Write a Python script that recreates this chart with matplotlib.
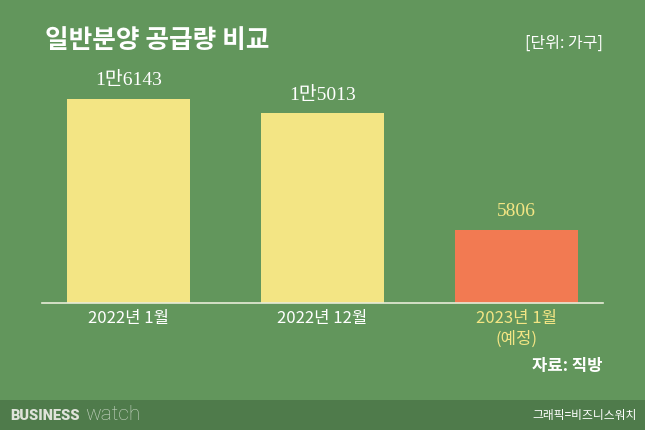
import matplotlib.pyplot as plt
from matplotlib.patches import Rectangle

plt.rcParams['font.family'] = ['Noto Sans CJK KR', 'DejaVu Sans']

# data
labels = ['2022년 1월', '2022년 12월', '2023년 1월\n(예정)']
values = [16143, 15013, 5806]
value_text = ['1만6143', '1만5013', '5806']

bg = '#62965c'
footer = '#4f7b4b'
yellow = '#f3e584'
orange = '#f27a52'
bar_colors = [yellow, yellow, orange]
text_colors = ['white', 'white', yellow]

W, H = 645, 430
fig = plt.figure(figsize=(6.45, 4.3), dpi=100, facecolor=bg)

# axes in pixel coordinates: x 42..603, y 60..303 (from top)
ax = fig.add_axes([42 / W, 1 - 303 / H, (603 - 42) / W, (303 - 60) / H])
ax.set_facecolor('none')
x = list(range(len(values)))
ax.bar(x, values, width=0.634, color=bar_colors, zorder=2)
ax.set_xlim(-0.446, 2.446)
ax.set_ylim(0, 19225)
for s in ['top', 'right', 'left']:
    ax.spines[s].set_visible(False)
ax.spines['bottom'].set_color('#e8ecd8')
ax.spines['bottom'].set_linewidth(1.2)
ax.set_yticks([])
ax.set_xticks(x)
ax.set_xticklabels(labels, fontsize=12, fontweight='medium', linespacing=1.25)
ax.tick_params(axis='x', length=0, pad=5)
for t, c in zip(ax.get_xticklabels(), text_colors):
    t.set_color(c)
    t.set_verticalalignment('top')

for xi, v, t, c in zip(x, values, value_text, text_colors):
    ax.annotate(t, (xi, v), xytext=(0, 7), textcoords='offset points',
                ha='center', va='bottom', color=c, fontsize=14,
                family=['Liberation Serif', 'Noto Sans CJK KR'])

# title and notes
fig.text(45 / W, 1 - 40 / H, '일반분양 공급량 비교', color='white',
         fontsize=18.5, fontweight='bold', va='center', ha='left')
fig.text(603 / W, 1 - 43 / H, '[단위: 가구]', color='white',
         fontsize=11.5, va='center', ha='right')
fig.text(603 / W, 1 - 366 / H, '자료: 직방', color='white',
         fontsize=12, fontweight='bold', va='center', ha='right')

# footer band
fig.patches.append(Rectangle((0, 0), 1, 30 / H, transform=fig.transFigure,
                             facecolor=footer, edgecolor='none', zorder=0))
fig.text(10 / W, 1 - 416 / H, 'BUSINESS', color='#dfe3da', fontsize=10.5,
         fontweight='black', va='center', ha='left', family='Roboto')
fig.text(85 / W, 1 - 414 / H, 'watch', color='#c9d6c6', fontsize=15,
         fontweight='light', va='center', ha='left', family='Roboto')
fig.text(637 / W, 1 - 415 / H, '그래픽=비즈니스워치', color='white',
         fontsize=8.5, va='center', ha='right')

fig.savefig('out.png', dpi=100, facecolor=bg)
